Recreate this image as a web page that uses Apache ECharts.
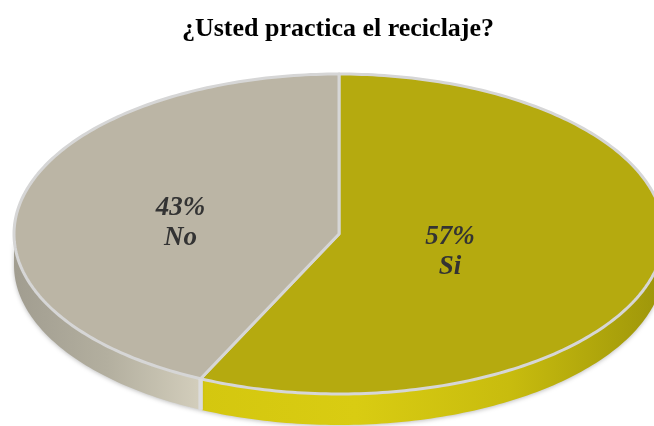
<!DOCTYPE html>
<html lang="es">
<head>
    <meta charset="UTF-8">
    <title>¿Usted practica el reciclaje?</title>
    <style>
        html, body { margin: 0; padding: 0; background: #fff; }
        #main { width: 654px; height: 426px; }
    </style>
</head>
<body>
<div id="main"></div>
<script src="https://cdn.jsdelivr.net/npm/echarts@6/dist/echarts.min.js"></script>
<script type="text/javascript">
    // datos
    var categories = ['Si', 'No'];
    var values = [57, 43];

    // estilo de cada porcion
    var topColors = ['#b5aa0f', '#bbb5a5'];
    var sideColors = [
        ['#d4c70f', '#d9cc12', '#c8bc0e', '#9d950a'],
        ['#a19d90', '#b3af9f', '#d3cebc']
    ];
    var labelFrac = [0.35, 0.5];

    // geometria de la elipse (pastel inclinado)
    var cx = 339, cy = 234, rx = 325, ry = 160, depth = 31;

    var total = values.reduce(function (a, b) { return a + b; }, 0);

    function pt(theta, dy) {
        return [cx + rx * Math.sin(theta), cy - ry * Math.cos(theta) + (dy || 0)];
    }

    function arc(a0, a1, dy) {
        var pts = [];
        var n = Math.max(2, Math.ceil(Math.abs(a1 - a0) / (Math.PI / 180)));
        for (var i = 0; i <= n; i++) {
            pts.push(pt(a0 + (a1 - a0) * i / n, dy));
        }
        return pts;
    }

    function renderItem(params, api) {
        var idx = params.dataIndex;
        var before = 0;
        for (var i = 0; i < idx; i++) before += values[i];
        var v = api.value(0);
        var a0 = before / total * Math.PI * 2;
        var a1 = (before + v) / total * Math.PI * 2;
        var children = [];

        // cara lateral visible (parte delantera)
        var lo = Math.max(a0, Math.PI / 2), hi = Math.min(a1, Math.PI * 1.5);
        if (lo < hi) {
            var side = arc(lo, hi, 0).concat(arc(hi, lo, depth));
            var stops = sideColors[idx].map(function (c, k, arr) {
                return { offset: k / (arr.length - 1), color: c };
            });
            children.push({
                type: 'polygon',
                z2: 1,
                shape: { points: side },
                style: {
                    fill: new echarts.graphic.LinearGradient(0, 0, 1, 0, stops),
                    shadowBlur: 4,
                    shadowColor: 'rgba(0,0,0,0.25)',
                    shadowOffsetY: 1
                }
            });
            // aristas verticales entre porciones
            [a0, a1].forEach(function (a) {
                if (a > Math.PI / 2 && a < Math.PI * 1.5) {
                    var p = pt(a, 0);
                    children.push({
                        type: 'line',
                        z2: 3,
                        shape: { x1: p[0], y1: p[1], x2: p[0], y2: p[1] + depth },
                        style: { stroke: '#dcdcdc', lineWidth: 4 }
                    });
                }
            });
        }

        // cara superior
        children.push({
            type: 'polygon',
            z2: 2,
            shape: { points: [[cx, cy]].concat(arc(a0, a1, 0)) },
            style: { fill: topColors[idx], stroke: '#d6d6d6', lineWidth: 3, lineJoin: 'round' }
        });

        // etiqueta
        var mid = (a0 + a1) / 2;
        var f = labelFrac[idx];
        children.push({
            type: 'text',
            z2: 5,
            style: {
                text: Math.round(v / total * 100) + '%\n' + categories[idx],
                x: cx + rx * f * Math.sin(mid),
                y: cy - ry * f * Math.cos(mid) + 6,
                align: 'center',
                verticalAlign: 'middle',
                font: 'italic bold 27px "Liberation Serif", "Times New Roman", serif',
                lineHeight: 30,
                fill: '#333333'
            }
        });

        return { type: 'group', children: children };
    }

    var myChart = echarts.init(document.getElementById('main'));
    var option = {
        animation: false,
        title: {
            text: '¿Usted practica el reciclaje?',
            left: 333,
            top: 11,
            textAlign: 'center',
            textStyle: {
                fontFamily: '"Liberation Serif", "Times New Roman", serif',
                fontWeight: 'bold',
                fontSize: 26,
                color: '#000'
            }
        },
        series: [{
            type: 'custom',
            coordinateSystem: 'none',
            renderItem: renderItem,
            data: values.map(function (v, i) { return { name: categories[i], value: [v] }; })
        }]
    };
    myChart.setOption(option);
</script>
</body>
</html>
